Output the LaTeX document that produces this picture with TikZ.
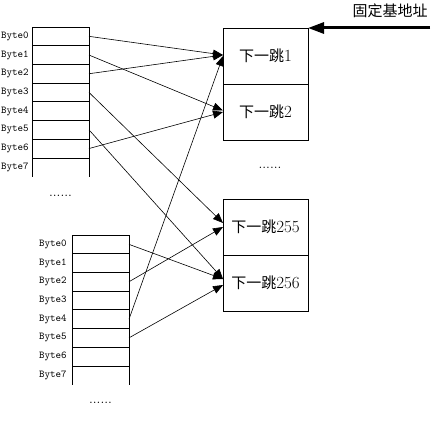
\documentclass[tikz,border=0pt]{standalone}
\usepackage{fontspec}
\newfontfamily\cjk{Noto Sans CJK SC}
\usetikzlibrary{arrows.meta, calc}

\tikzset{
  cell/.style={draw, minimum width=57pt, minimum height=18.7pt, inner sep=0pt, outer sep=0pt},
  opencell/.style={minimum width=57pt, minimum height=18.7pt, inner sep=0pt, outer sep=0pt},
  bytelbl/.style={anchor=east, inner sep=0pt, font=\fontsize{10.5}{12}\ttfamily},
  hopbox/.style={draw, minimum width=85pt, minimum height=56pt, inner sep=0pt, outer sep=0pt, font=\fontsize{17}{17}\selectfont},
  link/.style={-{Triangle[length=10pt,width=8pt]}, line width=0.6pt},
  dots/.style={inner sep=0pt, font=\fontsize{14}{14}\selectfont}
}

\begin{document}
\begin{tikzpicture}[x=1pt, y=-1pt, line width=0.7pt]
\useasboundingbox (0,0) rectangle (432,433);

            %% top table
            \node[cell] (a0) at (60.5, 36.35) {};
            \node[cell] (a1) at (60.5, 55.05) {};
            \node[cell] (a2) at (60.5, 73.75) {};
            \node[cell] (a3) at (60.5, 92.45) {};
            \node[cell] (a4) at (60.5, 111.15) {};
            \node[cell] (a5) at (60.5, 129.85) {};
            \node[cell] (a6) at (60.5, 148.55) {};
            \node[opencell] (a7) at (60.5, 167.25) {};
            \draw (a7.north west) -- (a7.south west);
            \draw (a7.north east) -- (a7.south east);
            \node[bytelbl] at ($(a0.west) + (-3, 0)$) {Byte0};
            \node[bytelbl] at ($(a1.west) + (-3, 0)$) {Byte1};
            \node[bytelbl] at ($(a2.west) + (-3, 0)$) {Byte2};
            \node[bytelbl] at ($(a3.west) + (-3, 0)$) {Byte3};
            \node[bytelbl] at ($(a4.west) + (-3, 0)$) {Byte4};
            \node[bytelbl] at ($(a5.west) + (-3, 0)$) {Byte5};
            \node[bytelbl] at ($(a6.west) + (-3, 0)$) {Byte6};
            \node[bytelbl] at ($(a7.west) + (-3, 0)$) {Byte7};
            \node[dots] (moretop) at (60.5, 196) {......};

            %% lower table
            \node[cell] (b0) at (100.5, 244.35) {};
            \node[cell] (b1) at (100.5, 263.05) {};
            \node[cell] (b2) at (100.5, 281.75) {};
            \node[cell] (b3) at (100.5, 300.45) {};
            \node[cell] (b4) at (100.5, 319.15) {};
            \node[cell] (b5) at (100.5, 337.85) {};
            \node[cell] (b6) at (100.5, 356.55) {};
            \node[opencell] (b7) at (100.5, 375.25) {};
            \draw (b7.north west) -- (b7.south west);
            \draw (b7.north east) -- (b7.south east);
            \node[bytelbl] at ($(b0.west) + (-5, 0)$) {Byte0};
            \node[bytelbl] at ($(b1.west) + (-5, 0)$) {Byte1};
            \node[bytelbl] at ($(b2.west) + (-5, 0)$) {Byte2};
            \node[bytelbl] at ($(b3.west) + (-5, 0)$) {Byte3};
            \node[bytelbl] at ($(b4.west) + (-5, 0)$) {Byte4};
            \node[bytelbl] at ($(b5.west) + (-5, 0)$) {Byte5};
            \node[bytelbl] at ($(b6.west) + (-5, 0)$) {Byte6};
            \node[bytelbl] at ($(b7.west) + (-5, 0)$) {Byte7};
            \node[dots] (morelow) at (100.5, 403) {......};

            %% next hop table
            \node[hopbox] (hop1) at (265.5, 56) {{\fontsize{15}{15}\cjk 下一跳}1};
            \node[hopbox] (hop2) at (265.5, 112) {{\fontsize{15}{15}\cjk 下一跳}2};
            \node[dots] (morehop) at (270, 168) {......};
            \node[hopbox] (hop255) at (265.5, 227) {{\fontsize{15}{15}\cjk 下一跳}255};
            \node[hopbox] (hop256) at (265.5, 283) {{\fontsize{15}{15}\cjk 下一跳}256};

            %% base address
            \node[font=\fontsize{15}{15}\cjk] (title) at (390, 11) {固定基地址};
            \coordinate (base) at (430, 28);
            \draw[line width=3pt, -{Triangle[length=16pt, width=11pt]}] (base) -- (hop1.north east);

            %% top table -> next hop
            \draw[link] (a0.east) -- ([yshift=1pt]hop1.west);
            \draw[link] (a1.east) -- ([yshift=1.5pt]hop2.west);
            \draw[link] (a2.east) -- ([yshift=1pt]hop1.west);
            \draw[link] (a3.east) -- ([yshift=4pt]hop255.west);
            \draw[link] (a5.east) -- ([yshift=4pt]hop256.west);
            \draw[link] (a6.east) -- (hop2.west);

            %% lower table -> next hop
            \draw[link] (b0.east) -- ([yshift=4pt]hop256.west);
            \draw[link] (b2.east) -- (hop255.west);
            \draw[link] (b4.east) -- (hop1.west);
            \draw[link] (b5.east) -- ([yshift=-2pt]hop256.west);

      \end{tikzpicture}
\end{document}
